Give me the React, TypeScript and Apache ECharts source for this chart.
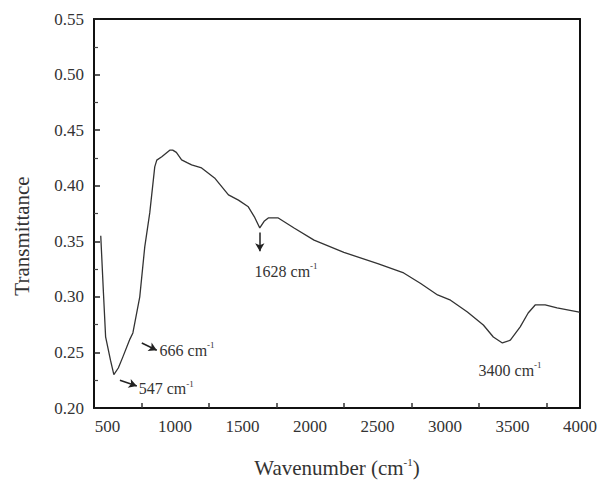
import React, { useEffect, useRef } from "react";
import * as echarts from "echarts";

const wavenumber = [
  450, 470, 486, 522, 547, 580, 614, 666, 688, 739, 776, 813, 850, 865, 902, 961, 983, 1010,
  1049, 1093, 1123, 1197, 1293, 1396, 1470, 1543, 1588, 1628, 1660, 1691, 1765, 1882, 2030,
  2251, 2502, 2694, 2820, 2945, 3041, 3166, 3284, 3358, 3425, 3484, 3557, 3616, 3668, 3742,
  3830, 3985, 4000,
];
const transmittance = [
  0.355, 0.3035, 0.264, 0.243, 0.23, 0.236, 0.246, 0.262, 0.2675, 0.3, 0.345, 0.3755, 0.417,
  0.423, 0.426, 0.432, 0.432, 0.43, 0.4232, 0.4205, 0.4187, 0.416, 0.407, 0.3917, 0.387, 0.381,
  0.372, 0.362, 0.368, 0.371, 0.371, 0.362, 0.351, 0.34, 0.33, 0.3215, 0.312, 0.3017, 0.297,
  0.2864, 0.2747, 0.2639, 0.2585, 0.261, 0.273, 0.2855, 0.2927, 0.2927, 0.29, 0.2864, 0.286,
];
const xLabelValues = [500, 1000, 1500, 2000, 2500, 3000, 3500, 4000];
const xTickValues = [750, 1250, 1750, 2250, 2750, 3250, 3750];

const annLabels = ["547", "666", "1628", "3400"];
const annTextPos: [number, number][] = [
  [727, 0.2175],
  [882, 0.252],
  [1823, 0.323],
  [3482, 0.234],
];
const annAlign = ["left", "left", "center", "center"];
const annArrows: [number, number, number, number][] = [
  [592, 0.225, 717, 0.2198],
  [754, 0.2585, 865, 0.252],
  [1628, 0.358, 1628, 0.341],
];

const FONT = "Times New Roman";

export default function App() {
  const ref = useRef<HTMLDivElement>(null);
  useEffect(() => {
    document.body.style.margin = "0";
    const chart = echarts.init(ref.current!, null, { renderer: "svg" });
    const data = wavenumber.map((w, i) => [w, transmittance[i]]);
    chart.setOption({
      animation: false,
      backgroundColor: "#fff",
      grid: { left: 94, right: 20, top: 19, bottom: 81 },
      xAxis: [
        {
          type: "value",
          min: 400,
          max: 4000,
          name: "Wavenumber (cm{s|-1})",
          nameLocation: "middle",
          nameGap: 48,
          nameTextStyle: {
            fontFamily: FONT,
            fontSize: 21,
            color: "#333",
            rich: {
              s: { fontFamily: FONT, fontSize: 11, color: "#333", padding: [0, 0, 12, 0] },
            },
          },
          axisLine: { show: true, lineStyle: { color: "#111", width: 2 } },
          axisTick: {
            show: true,
            inside: true,
            length: 5,
            customValues: xTickValues,
            lineStyle: { color: "#333", width: 1.5 },
          },
          axisLabel: {
            customValues: xLabelValues,
            fontFamily: FONT,
            fontSize: 17,
            color: "#333",
            margin: 10,
            formatter: (v: number) => String(v),
          },
          splitLine: { show: false },
        },
        {
          type: "value",
          position: "top",
          min: 400,
          max: 4000,
          axisLine: { show: true, lineStyle: { color: "#111", width: 2 } },
          axisTick: { show: false },
          axisLabel: { show: false },
          splitLine: { show: false },
        },
      ],
      yAxis: [
        {
          type: "value",
          min: 0.2,
          max: 0.55,
          interval: 0.05,
          name: "Transmittance",
          nameLocation: "middle",
          nameGap: 62,
          nameTextStyle: { fontFamily: FONT, fontSize: 21, color: "#333", padding: [0, 45, 0, 0] },
          axisLine: { show: true, lineStyle: { color: "#111", width: 2 } },
          axisTick: { show: true, inside: true, length: 6, lineStyle: { color: "#222", width: 1.5 } },
          minorTick: { show: true, splitNumber: 2, length: 4, lineStyle: { color: "#444", width: 1.2 } },
          axisLabel: {
            fontFamily: FONT,
            fontSize: 17,
            color: "#333",
            margin: 10,
            formatter: (v: number) => v.toFixed(2),
          },
          splitLine: { show: false },
        },
        {
          type: "value",
          position: "right",
          min: 0.2,
          max: 0.55,
          interval: 0.05,
          axisLine: { show: true, lineStyle: { color: "#111", width: 2 } },
          axisTick: { show: false },
          axisLabel: { show: false },
          splitLine: { show: false },
        },
      ],
      series: [
        {
          type: "line",
          data,
          showSymbol: false,
          smooth: false,
          lineStyle: { color: "#333", width: 1.3 },
          silent: true,
          markLine: {
            silent: true,
            symbol: ["none", "arrow"],
            symbolSize: [7, 8],
            lineStyle: { color: "#222", width: 1.5, type: "solid" },
            label: { show: false },
            data: annArrows.map((a) => [{ coord: [a[0], a[1]] }, { coord: [a[2], a[3]] }]),
          },
          markPoint: {
            silent: true,
            symbol: "circle",
            symbolSize: 1,
            itemStyle: { color: "rgba(0,0,0,0)" },
            data: annLabels.map((t, i) => ({
              coord: annTextPos[i],
              label: {
                show: true,
                position: annAlign[i] === "left" ? "right" : "inside",
                distance: 0,
                formatter: `{a|${t} cm}{s|-1}`,
                rich: {
                  a: { fontFamily: FONT, fontSize: 16, color: "#333" },
                  s: { fontFamily: FONT, fontSize: 9, color: "#333", padding: [0, 0, 10, 0] },
                },
              },
            })),
          },
        },
      ],
    });
    return () => chart.dispose();
  }, []);
  return <div ref={ref} style={{ width: 600, height: 489 }} />;
}
